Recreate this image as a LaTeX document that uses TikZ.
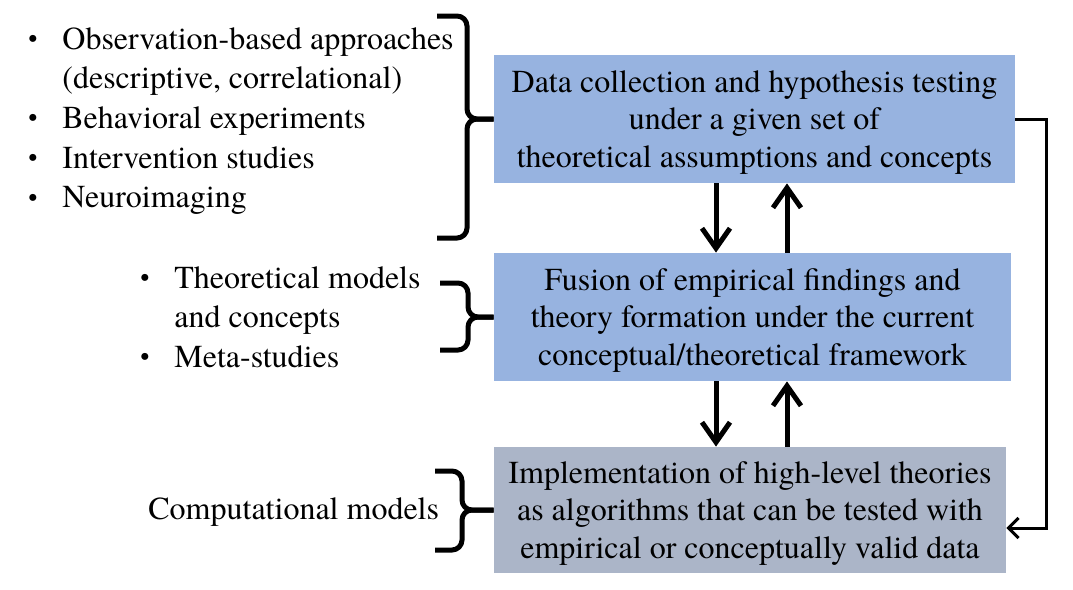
\documentclass[tikz,border=0pt]{standalone}
\usepackage{fontspec}
\setmainfont{texgyretermes-regular.otf}
\usetikzlibrary{arrows.meta}

\definecolor{boxblue}{RGB}{151,179,224}
\definecolor{boxgrey}{RGB}{171,181,200}
\newcommand{\itm}{\makebox[17pt][l]{\raisebox{0.8pt}{\fontsize{13}{13}\selectfont\textbullet}}}
\newcommand{\gap}{\hspace*{17pt}}

\begin{document}
\begin{tikzpicture}[x=0.5pt,y=-0.5pt,
  every node/.style={font=\fontsize{16}{19.8}\selectfont},
  box/.style={align=center,inner sep=0pt,minimum height=64pt,
    font=\fontsize{16}{18.8}\selectfont,text depth=0pt},
  lst/.style={anchor=west,align=left,inner sep=0pt},
  ud/.style={line width=2.5pt,-{Straight Barb[length=10pt,width=14pt]}},
  brc/.style={line width=2.5pt,rounded corners=5pt},
  back/.style={line width=1.5pt,-{Straight Barb[length=5pt,width=10pt]}}]
\useasboundingbox (0,0) rectangle (1073,590);

% boxes
\node[box,fill=boxblue,minimum width=260.5pt] (box1) at (754.5,119)
  {Data collection and hypothesis testing\\under a given set of\\theoretical assumptions and concepts};
\node[box,fill=boxblue,minimum width=258.5pt] (box2) at (752.5,317)
  {Fusion of empirical findings and\\theory formation under the current\\conceptual/theoretical framework};
\node[box,fill=boxgrey,minimum width=256pt,minimum height=63pt] (box3) at (750,510)
  {Implementation of high-level theories\\as algorithms that can be tested with\\empirical or conceptually valid data};

% lists
\node[lst] (obs) at (28,121)
  {\itm Observation-based approaches\\\gap(descriptive, correlational)\\\itm Behavioral experiments\\\itm Intervention studies\\\itm Neuroimaging};
\node[lst] (theo) at (140,317)
  {\itm Theoretical models\\\gap and concepts\\\itm Meta-studies};
\node[lst] (comp) at (148,512) {Computational models};

% braces
\coordinate (b1) at (467,0);
\coordinate (b2) at (468,0);
\coordinate (b3) at (462,0);
\draw[brc] (437,16) -| (box1.west -| b1) -- (box1.west);
\draw[brc] (437,238) -| (box1.west -| b1) -- (box1.west);
\draw[brc] (440,283) -| (box2.west -| b2) -- (box2.west);
\draw[brc] (440,350) -| (box2.west -| b2) -- (box2.west);
\draw[brc] (435,471) -| (box3.west -| b3) -- (box3.west);
\draw[brc] (435,550) -| (box3.west -| b3) -- (box3.west);

% arrows
\coordinate (dn) at (716,0);
\coordinate (up) at (787,0);
\draw[ud] (box1.south -| dn) -- (box2.north -| dn);
\draw[ud] (box2.north -| up) -- (box1.south -| up);
\draw[ud] (box2.south -| dn) -- (box3.north -| dn);
\draw[ud] (box3.north -| up) -- (box2.south -| up);

\coordinate (rt) at (1046,528);
\draw[back] (box1.east) -| (rt) -- (box3.east |- rt);
\end{tikzpicture}
\end{document}
